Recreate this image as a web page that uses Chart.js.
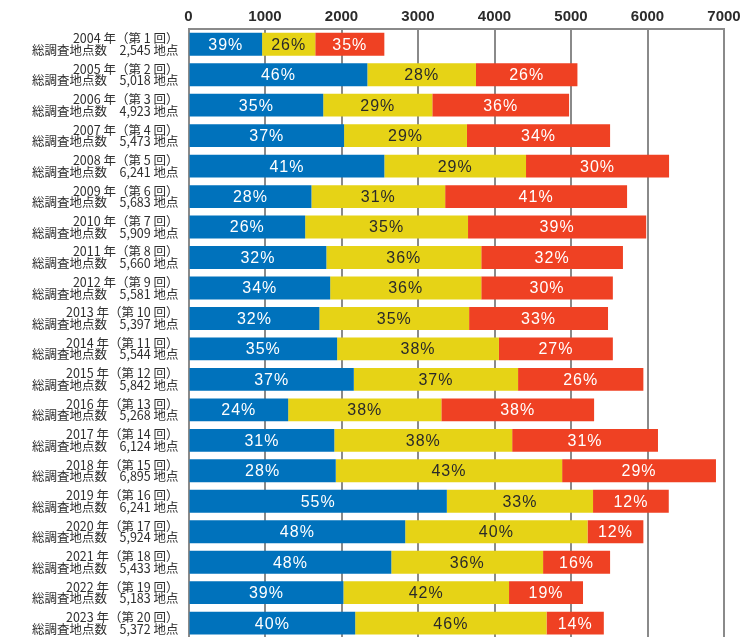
<!DOCTYPE html>
<html>
<head>
<meta charset="utf-8">
<script src="https://cdn.jsdelivr.net/npm/chart.js@4/dist/chart.umd.min.js"></script>
<style>
  html, body { margin: 0; padding: 0; background: #fff; overflow: hidden; }
  #wrap { width: 747px; height: 660px; position: relative; }
</style>
</head>
<body>
<div id="wrap"><canvas id="c" width="747" height="660"></canvas></div>
<script>
// ---- data ----
const years  = [2004, 2005, 2006, 2007, 2008, 2009, 2010, 2011, 2012, 2013, 2014, 2015, 2016, 2017, 2018, 2019, 2020, 2021, 2022, 2023];
const rounds = [1, 2, 3, 4, 5, 6, 7, 8, 9, 10, 11, 12, 13, 14, 15, 16, 17, 18, 19, 20];
const totals = ["2,545", "5,018", "4,923", "5,473", "6,241", "5,683", "5,909", "5,660", "5,581", "5,397", "5,544", "5,842", "5,268", "6,124", "6,895", "6,241", "5,924", "5,433", "5,183", "5,372"];

// bar segment lengths (number of sites)
const blueValues   = [962, 2338, 1761, 2034, 2560, 1607, 1525, 1802, 1852, 1711, 1943, 2161, 1303, 1906, 1925, 3377, 2833, 2651, 2025, 2179];
const yellowValues = [695, 1420, 1426, 1606, 1852, 1748, 2129, 2025, 1975, 1957, 2115, 2147, 2002, 2325, 2959, 1911, 2383, 1984, 2165, 2501];
const redValues    = [903, 1326, 1788, 1871, 1870, 2378, 2329, 1852, 1720, 1816, 1489, 1638, 1997, 1906, 2011,  990,  730,  876,  967,  749];

// percentage labels printed on the bars
const bluePct   = [39, 46, 35, 37, 41, 28, 26, 32, 34, 32, 35, 37, 24, 31, 28, 55, 48, 48, 39, 40];
const yellowPct = [26, 28, 29, 29, 29, 31, 35, 36, 36, 35, 38, 37, 38, 38, 43, 33, 40, 36, 42, 46];
const redPct    = [35, 26, 36, 34, 30, 41, 39, 32, 30, 33, 27, 26, 38, 31, 29, 12, 12, 16, 19, 14];

// axis ticks
const xMin = 0, xMax = 7000, xStep = 1000;

const categories = years.map((y, i) => [
  y + " 年（第 " + rounds[i] + " 回）",
  "総調査地点数　" + totals[i] + " 地点"
]);

const BLUE = "#0072BC", YELLOW = "#E6D316", RED = "#EF4123";
const GRID = "#8a8a8a";

const pctLabels = [bluePct, yellowPct, redPct];
const labelColors = ["#ffffff", "#2a2a2a", "#ffffff"];

const barLabelPlugin = {
  id: "barLabels",
  afterDatasetsDraw(chart) {
    const ctx = chart.ctx;
    ctx.save();
    ctx.font = "16px 'Liberation Sans', Arial, sans-serif";
    ctx.textAlign = "center";
    ctx.textBaseline = "middle";
    try { ctx.letterSpacing = "1px"; } catch (e) {}
    chart.data.datasets.forEach((ds, di) => {
      const meta = chart.getDatasetMeta(di);
      meta.data.forEach((el, i) => {
        const cx = (el.x + el.base) / 2;
        ctx.fillStyle = labelColors[di];
        ctx.fillText(pctLabels[di][i] + "%", cx, el.y + 1);
      });
    });
    ctx.restore();
  }
};

new Chart(document.getElementById("c"), {
  type: "bar",
  data: {
    labels: categories,
    datasets: [
      { label: "blue",   data: blueValues,   backgroundColor: BLUE },
      { label: "yellow", data: yellowValues, backgroundColor: YELLOW },
      { label: "red",    data: redValues,    backgroundColor: RED }
    ]
  },
  options: {
    indexAxis: "y",
    responsive: false,
    animation: false,
    devicePixelRatio: 1,
    layout: { padding: { top: 0, right: 23, bottom: 21, left: 0 } },
    plugins: { legend: { display: false }, tooltip: { enabled: false } },
    datasets: { bar: { categoryPercentage: 1.0, barPercentage: 0.75, borderWidth: 0 } },
    scales: {
      x: {
        type: "linear",
        position: "top",
        stacked: true,
        min: xMin, max: xMax,
        afterFit(scale) { scale.height = 29; },
        ticks: {
          stepSize: xStep,
          padding: 3,
          color: "#2b2b2b",
          font: { family: "'Liberation Sans', Arial, sans-serif", size: 15, weight: "bold" },
          maxRotation: 0,
          callback: (v) => String(v)
        },
        grid: { color: GRID, lineWidth: 2, drawTicks: false },
        border: { display: true, color: GRID, width: 2 }
      },
      y: {
        type: "category",
        stacked: true,
        afterFit(scale) { scale.width = 188.5; },
        ticks: {
          padding: 10,
          color: "#2e2e2e",
          font: { family: "'Noto Sans CJK JP', sans-serif", size: 12.5, lineHeight: 0.93 },
          autoSkip: false
        },
        grid: { display: false, drawTicks: false },
        border: { display: false }
      }
    }
  },
  plugins: [barLabelPlugin]
});
</script>
</body>
</html>
